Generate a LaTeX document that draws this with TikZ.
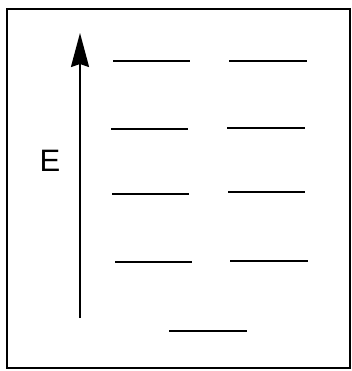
\documentclass[tikz,border=0pt]{standalone}
\usepackage{fontspec}
\setmainfont{Liberation Sans}
\usetikzlibrary{arrows.meta}
\begin{document}
\begin{tikzpicture}[x=1pt,y=-1pt,
  level/.style={line width=2.8pt},
  frame/.style={line width=2pt},
  axis/.style={line width=2pt,-{Stealth[length=34pt,width=18pt,inset=3pt]}}]
\useasboundingbox (0,0) rectangle (352,371);
\draw[frame] (7,9) rectangle (350,368);
\coordinate (a0) at (80,318);
\coordinate (a1) at (80,33);
\draw[axis] (a0) -- (a1);
\node[font=\fontsize{31}{31}\selectfont,inner sep=0pt] (E) at (50,161) {E};
% left column
\draw[level] (113,61) -- (190,61);
\draw[level] (111,129) -- (188,129);
\draw[level] (112,194) -- (189,194);
\draw[level] (115,262) -- (192,262);
% right column
\draw[level] (229,61) -- (307,61);
\draw[level] (227,128) -- (305,128);
\draw[level] (228,192) -- (305,192);
\draw[level] (230,261) -- (308,261);
% bottom
\draw[level] (169,331) -- (247,331);
\end{tikzpicture}
\end{document}
